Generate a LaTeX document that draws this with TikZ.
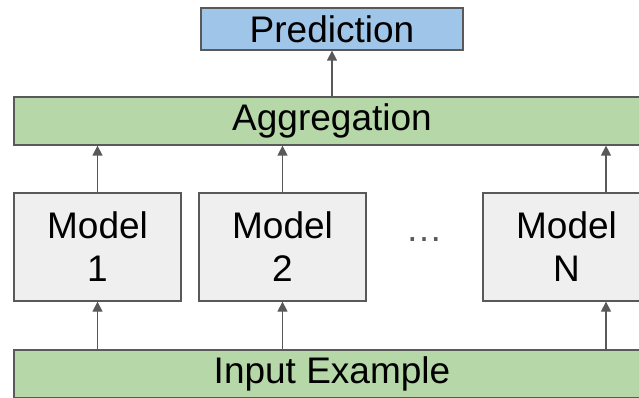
\documentclass[tikz,border=0pt]{standalone}
\usepackage{fontspec}
\setmainfont{Liberation Sans}
\usetikzlibrary{arrows.meta}
\definecolor{predblue}{RGB}{159,197,232}
\definecolor{agggreen}{RGB}{182,215,168}
\definecolor{modelgray}{RGB}{239,239,239}
\definecolor{edgegray}{RGB}{89,89,89}

\begin{document}
\begin{tikzpicture}[x=1pt,y=-1pt,
  box/.style={draw=edgegray,line width=1.3pt,inner sep=0pt,align=center,
    font=\fontsize{37}{43}\selectfont},
  pred/.style={box,fill=predblue,minimum width=262pt,minimum height=42pt},
  band/.style={box,fill=agggreen,minimum width=636pt,minimum height=48pt},
  model/.style={box,fill=modelgray,minimum width=167pt,minimum height=108pt},
  arr/.style={draw=edgegray,line width=1.3pt,-{Triangle[width=10pt,length=10pt]}}]
 \clip (0,0) rectangle (639,398);
 \useasboundingbox (0,0) rectangle (639,398);
 \node[pred] (pred) at (332,29) {Prediction};
 \node[band] (agg) at (332,121) {Aggregation};
 \node[model] (m1) at (97.5,247) {Model\\1};
 \node[model] (m2) at (282.5,247) {Model\\2};
 \node[model] (mN) at (566.5,247) {Model\\N};
 \node[text=edgegray,font=\fontsize{37}{43}\selectfont,inner sep=0pt] (dots) at (424,240) {…};
 \node[band] (inp) at (332,374) {Input Example};
 % model N arrows sit right of its centre
 \coordinate (nTop) at ([xshift=39.5pt]mN.north);
 \coordinate (nBot) at ([xshift=39.5pt]mN.south);
 \draw[arr] (agg.north) -- (pred.south);
 \draw[arr] (m1.north) -- (agg.south -| m1.north);
 \draw[arr] (m2.north) -- (agg.south -| m2.north);
 \draw[arr] (nTop) -- (agg.south -| nTop);
 \draw[arr] (inp.north -| m1.south) -- (m1.south);
 \draw[arr] (inp.north -| m2.south) -- (m2.south);
 \draw[arr] (inp.north -| nBot) -- (nBot);
\end{tikzpicture}
\end{document}
